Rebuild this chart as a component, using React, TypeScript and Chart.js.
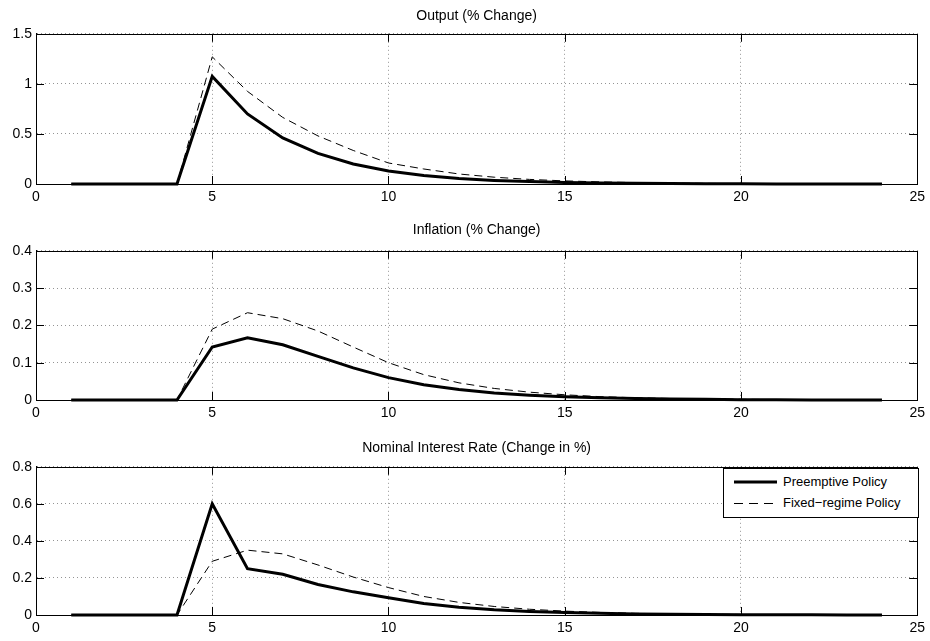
import React, { useEffect, useRef } from "react";
import { Chart, registerables } from "chart.js";

Chart.register(...registerables);

const periods = [1, 2, 3, 4, 5, 6, 7, 8, 9, 10, 11, 12, 13, 14, 15, 16, 17, 18, 19, 20, 21, 22, 23, 24];

const outputPreemptive = [0, 0, 0, 0, 1.075, 0.70, 0.46, 0.305, 0.2, 0.13, 0.085, 0.055, 0.036, 0.024, 0.016, 0.01, 0.007, 0.005, 0.003, 0.002, 0.001, 0.001, 0, 0];
const outputFixed = [0, 0, 0, 0, 1.27, 0.925, 0.665, 0.48, 0.335, 0.21, 0.15, 0.1, 0.068, 0.046, 0.031, 0.021, 0.014, 0.009, 0.006, 0.004, 0.003, 0.002, 0.001, 0.001];

const inflationPreemptive = [0, 0, 0, 0, 0.142, 0.167, 0.148, 0.117, 0.086, 0.06, 0.041, 0.028, 0.019, 0.013, 0.009, 0.006, 0.004, 0.003, 0.002, 0.001, 0.001, 0, 0, 0];
const inflationFixed = [0, 0, 0, 0, 0.19, 0.234, 0.218, 0.185, 0.142, 0.1, 0.068, 0.046, 0.031, 0.021, 0.014, 0.009, 0.006, 0.004, 0.003, 0.002, 0.001, 0.001, 0, 0];

const ratePreemptive = [0, 0, 0, 0, 0.6, 0.25, 0.22, 0.165, 0.125, 0.093, 0.062, 0.042, 0.028, 0.019, 0.013, 0.009, 0.006, 0.004, 0.003, 0.002, 0.001, 0.001, 0, 0];
const rateFixed = [0, 0, 0, 0, 0.29, 0.35, 0.33, 0.27, 0.205, 0.148, 0.1, 0.068, 0.046, 0.031, 0.021, 0.014, 0.009, 0.006, 0.004, 0.003, 0.002, 0.001, 0.001, 0];

const xTicks = [0, 5, 10, 15, 20, 25];
const seriesNames = ["Preemptive Policy", "Fixed\u2212regime Policy"];

const FONT = "'Liberation Sans', Arial, Helvetica, sans-serif";

type PanelCfg = {
  title: string;
  a: number[];
  b: number[];
  yMax: number;
  yStep: number;
  top: number;
  height: number;
  titlePad: { top: number; bottom: number };
  xAxisHeight: number;
};

const panels: PanelCfg[] = [
  { title: "Output (% Change)", a: outputPreemptive, b: outputFixed, yMax: 1.5, yStep: 0.5, top: 0, height: 214, titlePad: { top: 8, bottom: 9 }, xAxisHeight: 30 },
  { title: "Inflation (% Change)", a: inflationPreemptive, b: inflationFixed, yMax: 0.4, yStep: 0.1, top: 214, height: 214, titlePad: { top: 8, bottom: 12 }, xAxisHeight: 28 },
  { title: "Nominal Interest Rate (Change in %)", a: ratePreemptive, b: rateFixed, yMax: 0.8, yStep: 0.2, top: 428, height: 213, titlePad: { top: 12, bottom: 10 }, xAxisHeight: 26 },
];

const boxPlugin = {
  id: "matlabBox",
  afterDatasetsDraw(chart: any) {
    const { ctx, chartArea, scales } = chart;
    const { left, right, top, bottom } = chartArea;
    const tl = 8;
    ctx.save();
    ctx.strokeStyle = "#000";
    ctx.lineWidth = 1;
    ctx.beginPath();
    for (const v of xTicks) {
      const px = Math.round(scales.x.getPixelForValue(v)) + 0.5;
      ctx.moveTo(px, bottom);
      ctx.lineTo(px, bottom - tl);
      ctx.moveTo(px, top);
      ctx.lineTo(px, top + tl);
    }
    for (const t of scales.y.ticks) {
      const py = Math.round(scales.y.getPixelForValue(t.value)) + 0.5;
      ctx.moveTo(left, py);
      ctx.lineTo(left + tl, py);
      ctx.moveTo(right, py);
      ctx.lineTo(right - tl, py);
    }
    ctx.stroke();
    ctx.strokeRect(Math.round(left) + 0.5, Math.round(top) + 0.5, Math.round(right - left), Math.round(bottom - top));
    ctx.restore();
  },
};

function Panel({ cfg }: { cfg: PanelCfg }) {
  const ref = useRef<HTMLCanvasElement | null>(null);
  useEffect(() => {
    if (!ref.current) return;
    const chart = new Chart(ref.current, {
      type: "line",
      data: {
        datasets: [
          {
            label: seriesNames[0],
            data: periods.map((p, i) => ({ x: p, y: cfg.a[i] })),
            borderColor: "#000",
            borderWidth: 3,
            pointRadius: 0,
            tension: 0,
            clip: 4,
            order: 0,
          },
          {
            label: seriesNames[1],
            data: periods.map((p, i) => ({ x: p, y: cfg.b[i] })),
            borderColor: "#000",
            borderWidth: 1,
            borderDash: [8, 5],
            pointRadius: 0,
            tension: 0,
            clip: 4,
            order: 1,
          },
        ],
      },
      options: {
        animation: false,
        responsive: false,
        maintainAspectRatio: false,
        layout: { padding: { left: 0, right: 12, top: 0, bottom: 0 } },
        plugins: {
          legend: { display: false },
          tooltip: { enabled: false },
          title: {
            display: true,
            text: cfg.title,
            fullSize: false,
            color: "#000",
            font: { family: FONT, size: 14, weight: "normal" },
            padding: cfg.titlePad,
          },
        },
        scales: {
          x: {
            type: "linear",
            min: 0,
            max: 25,
            afterBuildTicks: (scale: any) => {
              scale.ticks = xTicks.map((v) => ({ value: v }));
            },
            afterFit: (scale: any) => {
              scale.height = cfg.xAxisHeight;
            },
            ticks: {
              color: "#000",
              font: { family: FONT, size: 14 },
              padding: 5,
              maxRotation: 0,
              callback: (v: any) => String(v),
            },
            grid: {
              color: "rgba(0,0,0,0.42)",
              lineWidth: 1,
              drawTicks: false,
            },
            border: { display: true, color: "#000", width: 1, dash: [1, 3] },
          },
          y: {
            type: "linear",
            min: 0,
            max: cfg.yMax,
            afterFit: (scale: any) => {
              scale.width = 36;
            },
            ticks: {
              stepSize: cfg.yStep,
              color: "#000",
              font: { family: FONT, size: 14 },
              padding: 4,
              callback: (v: any) => String(parseFloat(Number(v).toFixed(2))),
            },
            grid: {
              color: "rgba(0,0,0,0.42)",
              lineWidth: 1,
              drawTicks: false,
            },
            border: { display: true, color: "#000", width: 1, dash: [1, 3] },
          },
        },
      },
      plugins: [boxPlugin],
    } as any);
    return () => chart.destroy();
  }, [cfg]);
  return (
    <canvas
      ref={ref}
      width={930}
      height={cfg.height}
      style={{ position: "absolute", left: 0, top: cfg.top, width: 930, height: cfg.height }}
    />
  );
}

function Legend() {
  const row: React.CSSProperties = { display: "flex", alignItems: "center", height: 21 };
  const text: React.CSSProperties = { fontFamily: FONT, fontSize: 13, color: "#000", marginLeft: 6, whiteSpace: "nowrap" };
  return (
    <div
      style={{
        position: "absolute",
        left: 723,
        top: 468,
        width: 194,
        height: 46,
        border: "1px solid #000",
        background: "#fff",
        boxSizing: "content-box",
        padding: "2px 0 0 0",
      }}
    >
      <div style={{ ...row, paddingLeft: 10 }}>
        <svg width={43} height={6} style={{ display: "block" }}>
          <line x1={0} y1={3} x2={43} y2={3} stroke="#000" strokeWidth={3} />
        </svg>
        <span style={text}>{seriesNames[0]}</span>
      </div>
      <div style={{ ...row, paddingLeft: 10 }}>
        <svg width={43} height={6} style={{ display: "block" }}>
          <line x1={0} y1={3.5} x2={43} y2={3.5} stroke="#000" strokeWidth={1} strokeDasharray="9 6" />
        </svg>
        <span style={text}>{seriesNames[1]}</span>
      </div>
    </div>
  );
}

export default function App() {
  return (
    <div style={{ position: "fixed", left: 0, top: 0, width: 930, height: 641, background: "#fff", overflow: "hidden" }}>
      {panels.map((p, i) => (
        <Panel key={i} cfg={p} />
      ))}
      <Legend />
    </div>
  );
}
